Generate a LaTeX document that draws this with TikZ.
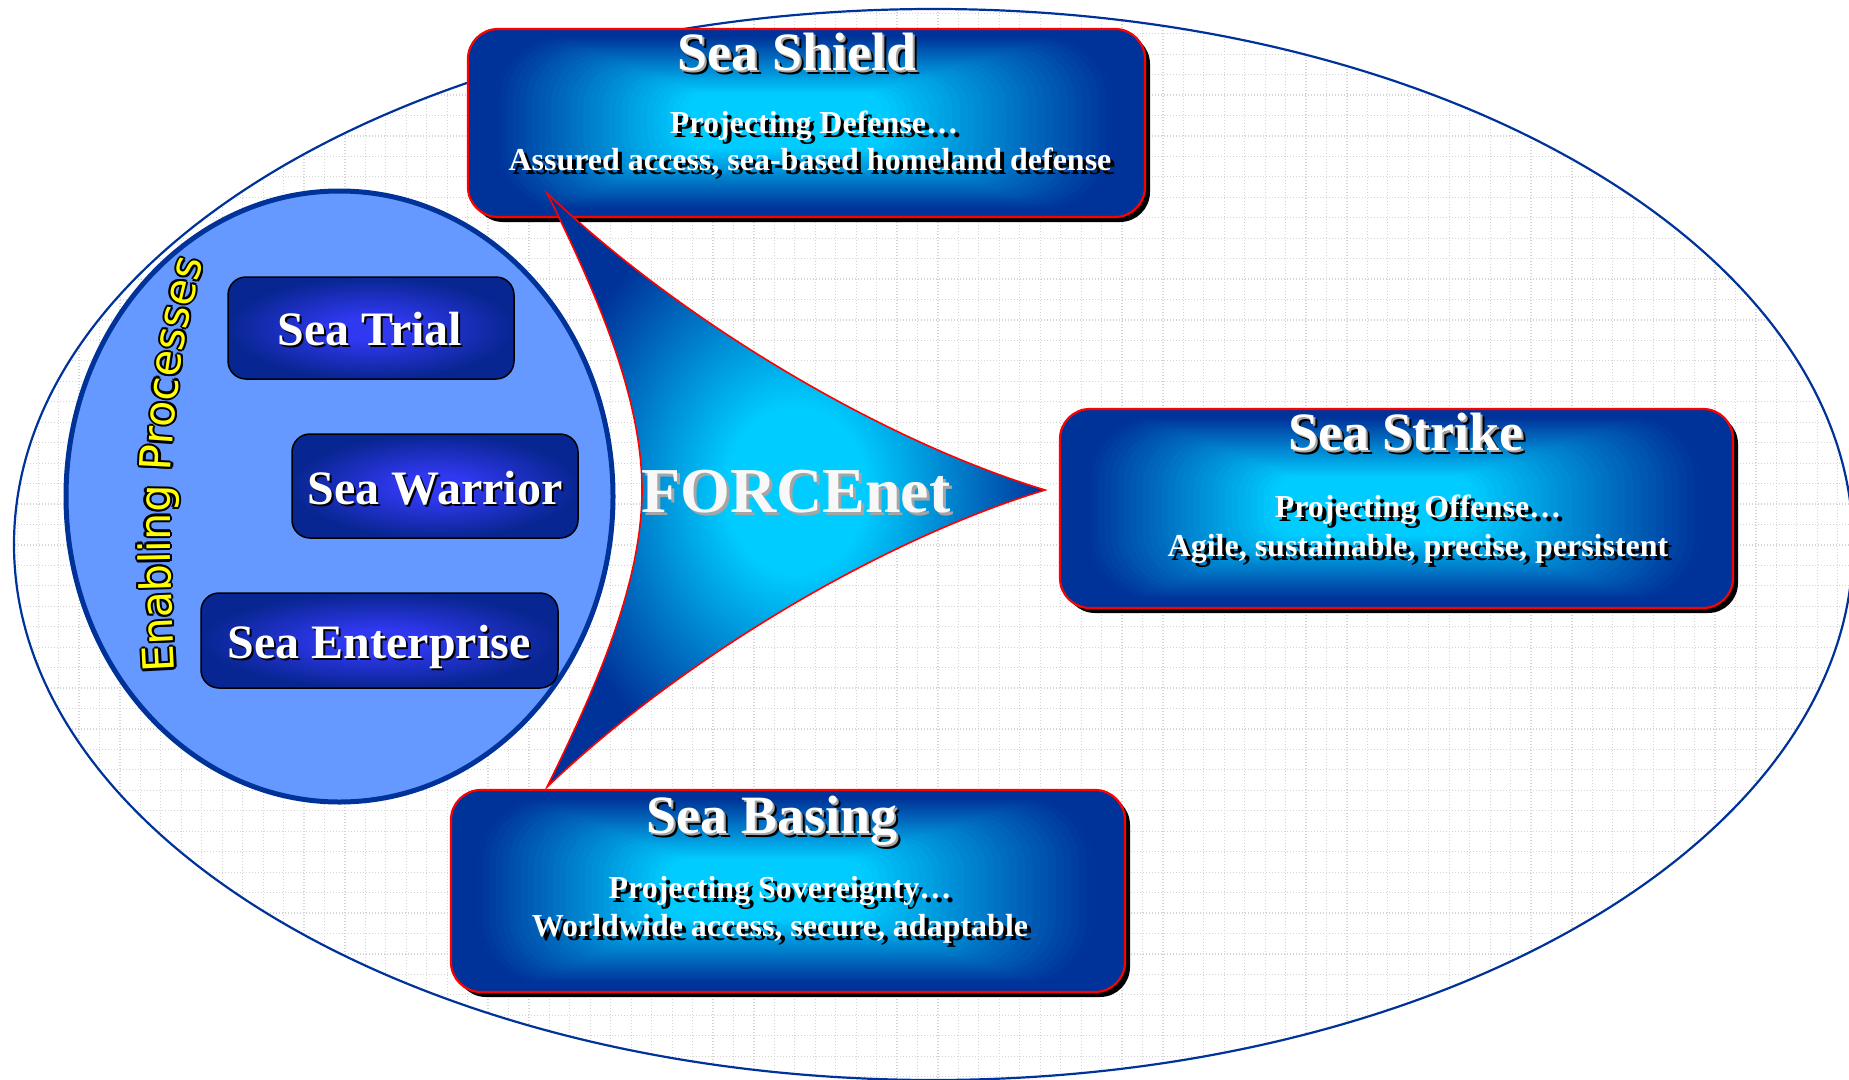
\documentclass[tikz,border=0pt]{standalone}
\usepackage{fontspec}
\setmainfont{Liberation Serif}
\newfontfamily\epfont{DejaVu Sans}
\usetikzlibrary{shadows,decorations.text,shapes.geometric}
\definecolor{dblue}{RGB}{0,51,153}
\definecolor{lcyan}{RGB}{0,204,255}
\definecolor{circfill}{RGB}{102,153,255}
\definecolor{ibin}{RGB}{48,56,240}
\definecolor{ibout}{RGB}{8,38,145}
\definecolor{gridc}{RGB}{212,212,212}
\definecolor{fnwhite}{RGB}{248,248,248}
\definecolor{fngray}{RGB}{165,165,165}
\definecolor{epyellow}{RGB}{255,255,0}
\pgfdeclareradialshading{innershade}{\pgfpoint{0bp}{0bp}}{color(0bp)=(ibin); color(6bp)=(ibin); color(25bp)=(ibout); color(50bp)=(ibout)}
\pgfdeclareradialshading{forceshade}{\pgfpoint{0bp}{0bp}}{color(0bp)=(lcyan); color(7bp)=(lcyan); color(25bp)=(dblue); color(50bp)=(dblue)}
\newcommand\titlef{\fontsize{54}{60}\selectfont\bfseries}
\newcommand\subf{\fontsize{32}{36}\selectfont\bfseries}
\newcommand\innerf{\fontsize{48}{54}\selectfont\bfseries}
\newcommand\forcef{\fontsize{64}{70}\selectfont\bfseries}
\newcommand\TxtSh[6]{%
  \node[txt, font=#4, text=black] (#1s) at (#2+#5,#3+#5) {#6};
  \node[txt, font=#4, text=white] (#1) at (#2,#3) {#6};}
\newcommand\TxtTitle[4]{%
  \node[txt, font=\titlef, text=black] (#1s) at (#2+4,#3+4) {#4};
  \node[txt, font=\titlef, text=fngray] (#1g) at (#2+2,#3+2) {#4};
  \node[txt, font=\titlef, text=white] (#1) at (#2,#3) {#4};}
% "from centre" gradient made of nested rounded rectangles, clipped to a rounded box
% #1 x1, #2 y1, #3 x2, #4 y2, #5 cx, #6 cy
\newcommand\RGrad[6]{%
  \begin{scope}
    \clip[rounded corners=30pt] (#1,#2) rectangle (#3,#4);
    \fill[dblue] (#1,#2) rectangle (#3,#4);
    \foreach \k in {0,...,46}{
      \pgfmathsetmacro\s{1-\k/48}
      \pgfmathsetmacro\p{max(0,min(100,(0.92-\s)/0.62*100))}
      \pgfmathsetmacro\rr{\s*70}
      \fill[lcyan!\p!dblue, rounded corners=\rr pt] ({#5-\s*(#5-#1)},{#6-\s*(#6-#2)}) rectangle ({#5+\s*(#3-#5)},{#6+\s*(#4-#6)});
    }
  \end{scope}}
\begin{document}
\begin{tikzpicture}[x=1pt,y=-1pt,
  txt/.style={anchor=base, inner sep=0pt},
  gridline/.style={draw=gridc, line width=1.2pt, dash pattern=on 1.4pt off 1.6pt},
  bigbox/.style={rectangle, rounded corners=30pt, fill=dblue, inner sep=0pt,
    drop shadow={opacity=1, fill=black, shadow xshift=5pt, shadow yshift=-5pt}},
  bigborder/.style={rectangle, rounded corners=30pt, draw=red, line width=2.2pt, inner sep=0pt},
  innerbox/.style={rectangle, rounded corners=18pt, draw=black, line width=1.5pt,
    shading=innershade, inner sep=0pt}]
\useasboundingbox (0,0) rectangle (1849,1079);
\fill[white] (0,0) rectangle (1849,1079);
% big ellipse with dotted grid
\begin{scope}
  \clip (933.5,544.5) ellipse [x radius=919.5, y radius=535.5];
  \foreach \i in {0,...,90} \draw[gridline] ({17.7+\i*20.45},0) -- ++(0,1079);
  \foreach \j in {0,...,52} \draw[gridline] (0,{13.2+\j*20.45}) -- ++(1849,0);
\end{scope}
\draw[dblue, line width=2.2pt] (933.5,544.5) ellipse [x radius=919.5, y radius=535.5];
% enabling circle
\node[ellipse, minimum width=547pt, minimum height=611pt, inner sep=0pt,
  fill=circfill, draw=dblue, line width=5pt] (enab) at (339.5,496.5) {};
% inner boxes
\node[innerbox, minimum width=286pt, minimum height=102pt] (trial) at (371,328) {};
\node[innerbox, minimum width=286pt, minimum height=104pt] (warrior) at (435,486) {};
\node[innerbox, minimum width=357pt, minimum height=95pt] (enterprise) at (379.5,640.5) {};
\TxtSh{trialt}{370}{345}{\innerf}{2}{Sea Trial}
\TxtSh{warriort}{435}{504.5}{\innerf}{2}{Sea Warrior}
\TxtSh{enterpriset}{379}{658}{\innerf}{2}{Sea Enterprise}
% Enabling Processes (outlined, along a curve)
\foreach \dx/\dy in {-2.1/0,2.1/0,0/-2.1,0/2.1,-1.5/-1.5,1.5/1.5,-1.5/1.5,1.5/-1.5}{
  \path[shift={(\dx,\dy)}, decorate, decoration={text along path, text align=center,
    text={|\epfont\fontsize{43}{43}\selectfont\color{black}|Enabling Processes}}]
    (176,690) .. controls (167,528) and (162,392) .. (209,244);
}
\path[decorate, decoration={text along path, text align=center,
    text={|\epfont\fontsize{43}{43}\selectfont\color{epyellow}|Enabling Processes}}]
    (176,690) .. controls (167,528) and (162,392) .. (209,244);
% big boxes
\node[bigbox, minimum width=677pt, minimum height=188pt] (shield) at (806.5,123) {};
\RGrad{468}{29}{1145}{217}{775}{120}
\node[bigborder, minimum width=677pt, minimum height=188pt] (shieldbd) at (806.5,123) {};
\node[bigbox, minimum width=673pt, minimum height=199pt] (strike) at (1396.5,508.5) {};
\RGrad{1060}{409}{1733}{608}{1365}{505}
\node[bigborder, minimum width=673pt, minimum height=199pt] (strikebd) at (1396.5,508.5) {};
\node[bigbox, minimum width=674pt, minimum height=202pt] (basing) at (788,891) {};
\RGrad{451}{790}{1125}{992}{757}{888}
\node[bigborder, minimum width=674pt, minimum height=202pt] (basingbd) at (788,891) {};
\TxtTitle{shieldt}{797}{70}{Sea Shield}
\TxtSh{shielda}{814}{133}{\subf}{4}{Projecting Defense…}
\TxtSh{shieldb}{810}{170}{\subf}{4}{Assured access, sea-based homeland defense}
\TxtTitle{striket}{1406}{450}{Sea Strike}
\TxtSh{strikea}{1418}{517}{\subf}{4}{Projecting Offense…}
\TxtSh{strikeb}{1418}{556}{\subf}{4}{Agile, sustainable, precise, persistent}
\TxtTitle{basingt}{772}{833}{Sea Basing}
\TxtSh{basinga}{780}{898}{\subf}{4}{Projecting Sovereignty…}
\TxtSh{basingb}{780}{936}{\subf}{4}{Worldwide access, secure, adaptable}
% FORCEnet arrowhead
\path[draw=red, line width=1.6pt, shading=forceshade]
  (547,193) .. controls (680,320) and (880,440) .. (1045,490)
  .. controls (880,540) and (680,660) .. (547,787)
  .. controls (600,680) and (642,580) .. (642,490)
  .. controls (642,400) and (600,300) .. (547,193) -- cycle;
\node[txt, font=\forcef, text=fngray] (forces) at (796+3,512+3) {FORCEnet};
\node[txt, font=\forcef, text=fnwhite] (force) at (796,512) {FORCEnet};
\end{tikzpicture}
\end{document}
